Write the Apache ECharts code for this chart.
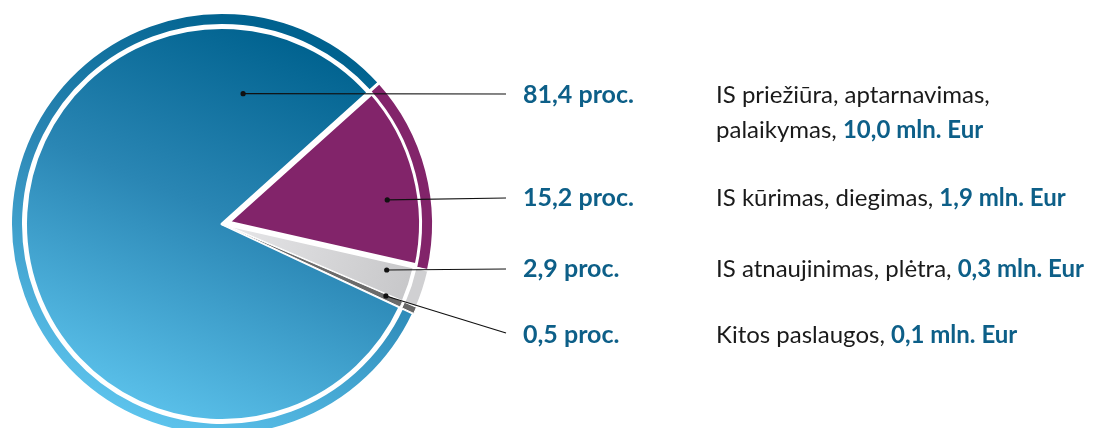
<!DOCTYPE html>
<html>
<head>
<meta charset="utf-8">
<script src="https://cdn.jsdelivr.net/npm/echarts@6/dist/echarts.min.js"></script>
<style>
html,body{margin:0;padding:0;background:#fff;}
#main{width:1100px;height:428px;}
</style>
</head>
<body>
<div id="main"></div>
<script>
// ---- data ----
const categories = ['IS priežiūra, aptarnavimas,\npalaikymas', 'IS kūrimas, diegimas', 'IS atnaujinimas, plėtra', 'Kitos paslaugos'];
const percents = [81.4, 15.2, 2.9, 0.5];
const amounts = [10.0, 1.9, 0.3, 0.1];

// ---- layout / style ----
const CX = 222, CY = 224;
const labelX = 523;
const descOffset = 193;
const lineEndX = 506;
const rowY = [94, 198, 269, 333];
const anchorAngle = [80.8, 8.3, -15.6, -23.7];
const anchorR = [132, 167, 171, 179];
const LH = 35;

const blueGrad = {type:'linear', x:300, y:40, x2:140, y2:430, global:true,
  colorStops:[{offset:0,color:'#00628f'},{offset:0.45,color:'#2a86b4'},{offset:1,color:'#5fc6ef'}]};
const grayGrad = {type:'linear', x:230, y:224, x2:420, y2:280, global:true,
  colorStops:[{offset:0,color:'#e6e6e8'},{offset:1,color:'#c6c6c8'}]};
const innerColors = [blueGrad, '#82246a', grayGrad, '#6b6b6b'];
const ringColors = [blueGrad, '#82246a', '#d0d0d2', '#666666'];
const innerBorders = [3, 3, 2, 1];
const ringBorders = [3, 3, 2, 1];

const fmt = v => v.toFixed(1).replace('.', ',');
const anchors = anchorAngle.map((a, i) => {
  const rad = a * Math.PI / 180;
  return [CX + anchorR[i] * Math.cos(rad), CY - anchorR[i] * Math.sin(rad)];
});

const innerData = percents.map((v, i) => ({
  value: v, name: categories[i],
  itemStyle: {color: innerColors[i], borderColor: '#fff', borderWidth: innerBorders[i]},
  select: {itemStyle: {color: innerColors[i], borderColor: '#fff', borderWidth: innerBorders[i]}},
  selected: i === 1
}));
const ringData = percents.map((v, i) => ({
  value: v, name: categories[i],
  itemStyle: {color: ringColors[i], borderColor: '#fff', borderWidth: ringBorders[i]}
}));

const chart = echarts.init(document.getElementById('main'), null, {renderer:'canvas'});
chart.setOption({
  animation: false,
  backgroundColor: '#fff',
  textStyle: {fontFamily: 'Lato'},
  series: [
    {
      type: 'pie',
      center: [CX, CY],
      radius: [0, 196.5],
      startAngle: 335,
      clockwise: true,
      selectedMode: 'single',
      selectedOffset: 7,
      silent: true,
      emphasis: {disabled: true},
      label: {show: false},
      labelLine: {show: false},
      data: innerData
    },
    {
      type: 'pie',
      center: [CX, CY],
      radius: [198.5, 211.5],
      startAngle: 335,
      clockwise: true,
      silent: true,
      avoidLabelOverlap: false,
      emphasis: {disabled: true},
      data: ringData,
      label: {
        show: true,
        position: 'outside',
        formatter: p => {
          const i = p.dataIndex;
          const lines = (categories[i] + ', ').split('\n');
          let s = '{p|' + fmt(percents[i]) + ' proc.}';
          lines.forEach((ln, k) => {
            if (k > 0) s += '\n{sp|}';
            if (k === lines.length - 1) s += '{d|' + ln + '}{b|' + fmt(amounts[i]) + ' mln. Eur}';
            else s += '{d|' + ln + '}';
          });
          return s;
        },
        rich: {
          p: {fontFamily: 'Lato', fontWeight: 'bold', fontSize: 25, color: '#0d5f88', width: descOffset, lineHeight: LH},
          sp: {width: descOffset, lineHeight: LH},
          d: {fontFamily: 'Lato', fontSize: 24, color: '#1a1a1a', lineHeight: LH},
          b: {fontFamily: 'Lato', fontWeight: 'bold', fontSize: 24, color: '#0d5f88', lineHeight: LH}
        }
      },
      labelLine: {show: false},
      labelLayout: params => ({
        x: labelX, y: [95, 198, 269, 335][params.dataIndex] - LH / 2,
        align: 'left', verticalAlign: 'top'
      })
    }
  ],
  graphic: anchors.map((a, i) => ({
    type: 'polyline', shape: {points: [a, [lineEndX, rowY[i]]]},
    style: {stroke: '#111', lineWidth: 1.2, fill: null}, z: 100
  })).concat(anchors.map(a => ({
    type: 'circle', shape: {cx: a[0], cy: a[1], r: 2.6}, style: {fill: '#111'}, z: 101
  })))
});
</script>
</body>
</html>
